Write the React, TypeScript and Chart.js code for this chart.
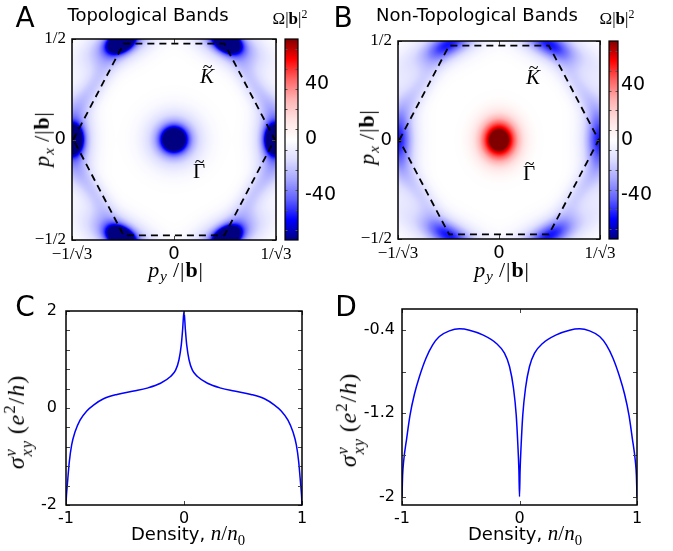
import React, { useEffect, useRef } from 'react';
import { Chart, registerables } from 'chart.js';
Chart.register(...registerables);

// ================= DATA =================
// Brillouin-zone boundary (dashed hexagon): p_y/|b| and p_x/|b|
const HEX_PY = [-0.57, -0.285, 0.285, 0.57, 0.285, -0.285, -0.57];
const HEX_PX = [0, 0.477, 0.477, 0, -0.477, -0.477, 0];

const BZ_PY_MIN = -0.5774;
const BZ_PY_MAX = 0.5774;
const BZ_PX_MIN = -0.5;
const BZ_PX_MAX = 0.5;
const BZ_PY_TICKS = [-0.5774, 0, 0.5774];
const BZ_PY_LABELS = ['\u22121/\u221A3', '0', '1/\u221A3'];
const BZ_PX_TICKS = [-0.5, 0, 0.5];
const BZ_PX_LABELS = ['\u22121/2', '0', '1/2'];

// Berry-curvature features Omega|b|^2: centre (p_y, p_x), amplitude, radial / tangential widths
const A_BLOB_PY = [0, 0, 0.57, 0.3, -0.3, -0.57, -0.3, 0.3, 0.57, 0.3, -0.3, -0.57, -0.3, 0.3, 0.46, -0.46, -0.46, 0.46];
const A_BLOB_PX = [0, 0, 0, 0.485, 0.485, 0, -0.485, -0.485, 0, 0.485, 0.485, 0, -0.485, -0.485, 0.26, 0.26, -0.26, -0.26];
const A_BLOB_AMP = [-90, -44, -115, -115, -115, -115, -115, -115, -40, -40, -40, -40, -40, -40, -18, -18, -18, -18];
const A_BLOB_SR = [0.08, 0.165, 0.06, 0.06, 0.06, 0.06, 0.06, 0.06, 0.12, 0.12, 0.12, 0.12, 0.12, 0.12, 0.08, 0.08, 0.08, 0.08];
const A_BLOB_ST = [0.08, 0.165, 0.09, 0.09, 0.09, 0.09, 0.09, 0.09, 0.25, 0.25, 0.25, 0.25, 0.25, 0.25, 0.28, 0.28, 0.28, 0.28];

const B_BLOB_PY = [0, 0, 0.57, 0.285, -0.285, -0.57, -0.285, 0.285, 0.57, 0.285, -0.285, -0.57, -0.285, 0.285, 0.46, -0.46, -0.46, 0.46];
const B_BLOB_PX = [0, 0, 0, 0.485, 0.485, 0, -0.485, -0.485, 0, 0.485, 0.485, 0, -0.485, -0.485, 0.26, 0.26, -0.26, -0.26];
const B_BLOB_AMP = [35, 85, -30, -30, -30, -30, -30, -30, -22, -22, -22, -22, -22, -22, -15, -15, -15, -15];
const B_BLOB_SR = [0.05, 0.13, 0.08, 0.08, 0.08, 0.08, 0.08, 0.08, 0.12, 0.12, 0.12, 0.12, 0.12, 0.12, 0.08, 0.08, 0.08, 0.08];
const B_BLOB_ST = [0.05, 0.15, 0.17, 0.17, 0.17, 0.17, 0.17, 0.17, 0.35, 0.35, 0.35, 0.35, 0.35, 0.35, 0.3, 0.3, 0.3, 0.3];

// Colour bar
const CBAR_MIN = -72;
const CBAR_MAX = 72;
const CBAR_TICKS = [-40, 0, 40];
const CBAR_LABELS = ['-40', '0', '40'];
const CBAR_MINOR = [-64.8, -50.4, -36, -21.6, -7.2, 7.2, 21.6, 36, 50.4, 64.8];
const CMAP_STOPS = [-72, -57.6, -43.2, -28.8, -14.4, 0, 14.4, 28.8, 43.2, 57.6, 72];
const CMAP_COLORS = [
  [0, 0, 128], [0, 0, 255], [95, 95, 255], [165, 165, 255], [220, 220, 255],
  [255, 255, 255],
  [255, 225, 225], [255, 178, 178], [255, 100, 100], [255, 0, 0], [128, 0, 0],
];

// Panel C
const C_DENSITY = [-1, -0.996, -0.989, -0.972, -0.952, -0.923, -0.881, -0.824, -0.767, -0.682, -0.568, -0.426, -0.313, -0.199, -0.114, -0.071, -0.043, -0.023, -0.011, 0, 0.011, 0.023, 0.043, 0.071, 0.114, 0.199, 0.313, 0.426, 0.568, 0.682, 0.767, 0.824, 0.881, 0.923, 0.952, 0.972, 0.989, 0.996, 1];
const C_SIGMA = [-2, -1.8, -1.59, -1.11, -0.76, -0.49, -0.25, -0.06, 0.06, 0.19, 0.28, 0.35, 0.41, 0.51, 0.65, 0.78, 0.99, 1.3, 1.64, 2, 1.64, 1.3, 0.99, 0.78, 0.65, 0.51, 0.41, 0.35, 0.28, 0.19, 0.06, -0.06, -0.25, -0.49, -0.76, -1.11, -1.59, -1.8, -2];
const C_X_TICKS = [-1, 0, 1];
const C_X_LABELS = ['-1', '0', '1'];
const C_Y_MIN = -2;
const C_Y_MAX = 2;
const C_Y_TICKS = [-2, -1.6, -1.2, -0.8, -0.4, 0, 0.4, 0.8, 1.2, 1.6, 2];
const C_Y_LABELS = ['-2', '', '', '', '', '0', '', '', '', '', '2'];

// Panel D
const D_DENSITY = [-1, -0.995, -0.986, -0.96, -0.932, -0.895, -0.852, -0.795, -0.739, -0.682, -0.597, -0.511, -0.426, -0.313, -0.199, -0.128, -0.085, -0.051, -0.028, -0.014, -0.005, 0, 0.005, 0.014, 0.028, 0.051, 0.085, 0.128, 0.199, 0.313, 0.426, 0.511, 0.597, 0.682, 0.739, 0.795, 0.852, 0.895, 0.932, 0.96, 0.986, 0.995, 1];
const D_SIGMA = [-2, -1.8, -1.66, -1.44, -1.22, -1.02, -0.85, -0.67, -0.544, -0.464, -0.41, -0.39, -0.403, -0.448, -0.528, -0.624, -0.752, -0.96, -1.216, -1.504, -1.75, -2, -1.75, -1.504, -1.216, -0.96, -0.752, -0.624, -0.528, -0.448, -0.403, -0.39, -0.41, -0.464, -0.544, -0.67, -0.85, -1.02, -1.22, -1.44, -1.66, -1.8, -2];
const D_X_TICKS = [-1, 0, 1];
const D_X_LABELS = ['-1', '0', '1'];
const D_Y_MIN = -2.08;
const D_Y_MAX = -0.2;
const D_Y_TICKS = [-2, -1.6, -1.2, -0.8, -0.4];
const D_Y_LABELS = ['-2', '', '-1.2', '', '-0.4'];

// ================= HELPERS =================
const SANS = '"DejaVu Sans", sans-serif';
const SERIF = '"Liberation Serif", "DejaVu Serif", serif';

function cmap(v: number): number[] {
  const s = CMAP_STOPS;
  const n = s.length;
  if (v <= s[0]) return CMAP_COLORS[0];
  if (v >= s[n - 1]) return CMAP_COLORS[n - 1];
  let i = 0;
  while (i < n - 2 && v > s[i + 1]) i++;
  const f = (v - s[i]) / (s[i + 1] - s[i]);
  const a = CMAP_COLORS[i], b = CMAP_COLORS[i + 1];
  return [a[0] + (b[0] - a[0]) * f, a[1] + (b[1] - a[1]) * f, a[2] + (b[2] - a[2]) * f];
}

type Blobs = { py: number[]; px: number[]; amp: number[]; sr: number[]; st: number[] };

function fieldAt(x: number, y: number, bl: Blobs): number {
  const u = x / BZ_PY_MAX, w = y / BZ_PX_MAX;
  let v = 0;
  for (let k = 0; k < bl.amp.length; k++) {
    const cu = bl.py[k] / BZ_PY_MAX, cw = bl.px[k] / BZ_PX_MAX;
    const th = cu === 0 && cw === 0 ? 0 : Math.atan2(cw, cu);
    const c = Math.cos(th), s = Math.sin(th);
    const du = u - cu, dw = w - cw;
    const rr = du * c + dw * s;
    const tt = -du * s + dw * c;
    v += bl.amp[k] * Math.exp(-(rr * rr / (2 * bl.sr[k] * bl.sr[k]) + tt * tt / (2 * bl.st[k] * bl.st[k])));
  }
  return v;
}

function fieldPlugin(bl: Blobs) {
  return {
    id: 'field',
    beforeDatasetsDraw(chart: any) {
      const { ctx, chartArea: a, scales } = chart;
      const w = Math.round(a.right - a.left), h = Math.round(a.bottom - a.top);
      const off = document.createElement('canvas');
      off.width = w; off.height = h;
      const octx = off.getContext('2d')!;
      const img = octx.createImageData(w, h);
      const xs: number[] = [];
      for (let i = 0; i < w; i++) xs.push(scales.x.getValueForPixel(a.left + i + 0.5));
      for (let j = 0; j < h; j++) {
        const yv = scales.y.getValueForPixel(a.top + j + 0.5);
        for (let i = 0; i < w; i++) {
          const col = cmap(fieldAt(xs[i], yv, bl));
          const o = (j * w + i) * 4;
          img.data[o] = col[0]; img.data[o + 1] = col[1]; img.data[o + 2] = col[2]; img.data[o + 3] = 255;
        }
      }
      octx.putImageData(img, 0, 0);
      ctx.drawImage(off, a.left, a.top, w, h);
    },
  };
}

const framePlugin = {
  id: 'frame',
  afterDatasetsDraw(chart: any) {
    const { ctx, chartArea: a, scales } = chart;
    ctx.save();
    ctx.strokeStyle = '#444';
    ctx.lineWidth = 1;
    const L = 4;
    const seg = (x1: number, y1: number, x2: number, y2: number) => {
      ctx.beginPath(); ctx.moveTo(x1, y1); ctx.lineTo(x2, y2); ctx.stroke();
    };
    for (const t of scales.y.ticks) {
      const p = Math.round(scales.y.getPixelForValue(t.value)) + 0.5;
      seg(a.left, p, a.left + L, p); seg(a.right - L, p, a.right, p);
    }
    for (const t of scales.x.ticks) {
      const p = Math.round(scales.x.getPixelForValue(t.value)) + 0.5;
      seg(p, a.bottom, p, a.bottom - L); seg(p, a.top, p, a.top + L);
    }
    ctx.strokeStyle = '#000';
    ctx.lineWidth = 1.5;
    ctx.strokeRect(a.left, a.top, a.right - a.left, a.bottom - a.top);
    ctx.restore();
  },
};

const cbarPlugin = {
  id: 'cbar',
  afterDraw(chart: any) {
    const { ctx, chartArea: a, scales } = chart;
    const y = scales.y;
    ctx.save();
    for (let p = Math.floor(a.top); p < Math.ceil(a.bottom); p++) {
      const c = cmap(y.getValueForPixel(p + 0.5));
      ctx.fillStyle = `rgb(${Math.round(c[0])},${Math.round(c[1])},${Math.round(c[2])})`;
      ctx.fillRect(a.left, p, a.right - a.left, 1);
    }
    ctx.strokeStyle = '#555';
    ctx.lineWidth = 1;
    for (const v of CBAR_MINOR) {
      const p = Math.round(y.getPixelForValue(v)) + 0.5;
      ctx.beginPath(); ctx.moveTo(a.left, p); ctx.lineTo(a.left + 2.5, p); ctx.stroke();
      ctx.beginPath(); ctx.moveTo(a.right - 2.5, p); ctx.lineTo(a.right, p); ctx.stroke();
    }
    ctx.strokeStyle = '#000';
    ctx.lineWidth = 1.2;
    ctx.strokeRect(a.left, a.top, a.right - a.left, a.bottom - a.top);
    ctx.restore();
  },
};

const fixedY = (width: number) => (s: any) => { s.width = width; s.paddingTop = 0; s.paddingBottom = 0; };
const fixedX = (height: number) => (s: any) => { s.height = height; s.paddingLeft = 0; s.paddingRight = 0; };
const setTicks = (vals: number[]) => (s: any) => { s.ticks = vals.map((v) => ({ value: v })); };

const noGrid = { display: false, drawTicks: false };
const noBorder = { display: false };

const bzFont = (c: any) =>
  c.tick && c.tick.value === 0 ? { family: SANS, size: 18 } : { family: SERIF, size: 17 };

type Geo = { w: number; h: number; left: number; right: number; top: number; bottom: number };

function bzConfig(bl: Blobs, g: Geo): any {
  return {
    type: 'scatter',
    data: {
      datasets: [{
        data: HEX_PY.map((x, i) => ({ x, y: HEX_PX[i] })),
        showLine: true, borderColor: '#000', borderWidth: 1.8, borderDash: [7, 5],
        pointRadius: 0, fill: false, tension: 0,
      }],
    },
    options: {
      responsive: false, animation: false, events: [],
      layout: { padding: { left: 0, top: g.top, right: g.w - g.right, bottom: 0 } },
      plugins: { legend: { display: false }, tooltip: { enabled: false } },
      scales: {
        x: {
          type: 'linear', min: BZ_PY_MIN, max: BZ_PY_MAX, grid: noGrid, border: noBorder,
          afterBuildTicks: setTicks(BZ_PY_TICKS), afterFit: fixedX(g.h - g.bottom),
          ticks: { callback: (_v: any, i: number) => BZ_PY_LABELS[i], font: bzFont, color: '#000', padding: 4, maxRotation: 0, minRotation: 0, autoSkip: false },
        },
        y: {
          type: 'linear', min: BZ_PX_MIN, max: BZ_PX_MAX, grid: noGrid, border: noBorder,
          afterBuildTicks: setTicks(BZ_PX_TICKS), afterFit: fixedY(g.left),
          ticks: { callback: (_v: any, i: number) => BZ_PX_LABELS[i], font: bzFont, color: '#000', padding: 6, autoSkip: false },
        },
      },
    },
    plugins: [fieldPlugin(bl), framePlugin],
  };
}

function cbarConfig(g: Geo, pad: number): any {
  return {
    type: 'scatter',
    data: { datasets: [] },
    options: {
      responsive: false, animation: false, events: [],
      layout: { padding: { left: g.left, top: g.top, right: 0, bottom: g.h - g.bottom } },
      plugins: { legend: { display: false }, tooltip: { enabled: false } },
      scales: {
        x: { display: false, min: 0, max: 1 },
        y: {
          type: 'linear', position: 'right', min: CBAR_MIN, max: CBAR_MAX, grid: noGrid, border: noBorder,
          afterBuildTicks: setTicks(CBAR_TICKS), afterFit: fixedY(g.w - g.right),
          ticks: { callback: (_v: any, i: number) => CBAR_LABELS[i], font: { family: SANS, size: 19 }, color: '#000', padding: pad, autoSkip: false },
        },
      },
    },
    plugins: [cbarPlugin],
  };
}

function lineConfig(xs: number[], ys: number[], g: Geo, yMin: number, yMax: number,
  xTicks: number[], xLabels: string[], yTicks: number[], yLabels: string[], yPad: number): any {
  return {
    type: 'scatter',
    data: {
      datasets: [{
        data: xs.map((x, i) => ({ x, y: ys[i] })),
        showLine: true, borderColor: '#0000ff', borderWidth: 1.5, pointRadius: 0,
        fill: false, cubicInterpolationMode: 'monotone',
      }],
    },
    options: {
      responsive: false, animation: false, events: [],
      layout: { padding: { left: 0, top: g.top, right: g.w - g.right, bottom: 0 } },
      plugins: { legend: { display: false }, tooltip: { enabled: false } },
      scales: {
        x: {
          type: 'linear', min: -1, max: 1, grid: noGrid, border: noBorder,
          afterBuildTicks: setTicks(xTicks), afterFit: fixedX(g.h - g.bottom),
          ticks: { callback: (_v: any, i: number) => xLabels[i], font: { family: SANS, size: 16 }, color: '#000', padding: 4, maxRotation: 0, minRotation: 0, autoSkip: false },
        },
        y: {
          type: 'linear', min: yMin, max: yMax, grid: noGrid, border: noBorder,
          afterBuildTicks: setTicks(yTicks), afterFit: fixedY(g.left),
          ticks: { callback: (_v: any, i: number) => yLabels[i], font: { family: SANS, size: 16 }, color: '#000', padding: yPad, autoSkip: false },
        },
      },
    },
    plugins: [framePlugin],
  };
}

function ChartBox({ x, y, g, make }: { x: number; y: number; g: Geo; make: () => any }) {
  const ref = useRef<HTMLCanvasElement>(null);
  useEffect(() => {
    const ch = new Chart(ref.current!, make());
    return () => ch.destroy();
  }, []);
  return (
    <canvas ref={ref} width={g.w} height={g.h}
      style={{ position: 'absolute', left: x, top: y, width: g.w, height: g.h }} />
  );
}

function T({ x, y, size, family, rot, children, spacing }: any) {
  return (
    <div style={{
      position: 'absolute', left: x, top: y, fontSize: size, fontFamily: family || SANS,
      transform: `translate(-50%, -50%)${rot ? ' rotate(-90deg)' : ''}`,
      whiteSpace: 'nowrap', lineHeight: 1.15, color: '#000', fontWeight: 400,
      letterSpacing: spacing || 'normal',
    }}>{children}</div>
  );
}

const Sub = ({ children }: any) => <span style={{ fontSize: '0.7em', verticalAlign: '-0.3em' }}>{children}</span>;
const Sup = ({ children }: any) => <span style={{ fontSize: '0.7em', verticalAlign: '0.55em' }}>{children}</span>;
const I = ({ children }: any) => <span style={{ fontStyle: 'italic' }}>{children}</span>;
const Bv = () => <span style={{ fontWeight: 'bold' }}>b</span>;
const Tilde = ({ children, italic }: any) => (
  <span style={{ position: 'relative', display: 'inline-block' }}>
    {italic ? <I>{children}</I> : children}
    <span style={{ position: 'absolute', left: '50%', top: '-0.42em', transform: 'translateX(-45%)', fontSize: '0.85em' }}>~</span>
  </span>
);

const OmegaLabel = () => (<span>Ω|<Bv />|<Sup>2</Sup></span>);
const PxLabel = () => (<span><I>p</I><Sub><I>x</I></Sub>{'\u2009'}/|<Bv />|</span>);
const PyLabel = () => (<span><I>p</I><Sub><I>y</I></Sub>{'\u2009'}/|<Bv />|</span>);
const SigmaLabel = () => (
  <span>
    <I>σ</I>
    <span style={{ display: 'inline-flex', flexDirection: 'column', fontSize: '0.68em', verticalAlign: 'middle', lineHeight: 0.95, marginRight: '0.35em' }}>
      <I>v</I><I>xy</I>
    </span>
    (<I>e</I><Sup>2</Sup>/<I>h</I>)
  </span>
);
const DensityLabel = () => (
  <span>
    <span style={{ fontFamily: SANS, fontSize: 18 }}>Density, </span>
    <span style={{ fontFamily: SERIF, fontSize: 21 }}><I>n</I>/<I>n</I><Sub>0</Sub></span>
  </span>
);

const GEO_A: Geo = { w: 300, h: 290, left: 72, right: 276, top: 39, bottom: 240 };
const GEO_A_CB: Geo = { w: 60, h: 290, left: 5, right: 18, top: 39, bottom: 240 };
const GEO_B: Geo = { w: 300, h: 290, left: 58, right: 260, top: 41, bottom: 239 };
const GEO_B_CB: Geo = { w: 73, h: 290, left: 9, right: 18, top: 41, bottom: 239 };
const GEO_C: Geo = { w: 340, h: 261, left: 66, right: 302, top: 21, bottom: 215 };
const GEO_D: Geo = { w: 333, h: 261, left: 62, right: 297, top: 19, bottom: 215 };

const BLOBS_A: Blobs = { py: A_BLOB_PY, px: A_BLOB_PX, amp: A_BLOB_AMP, sr: A_BLOB_SR, st: A_BLOB_ST };
const BLOBS_B: Blobs = { py: B_BLOB_PY, px: B_BLOB_PX, amp: B_BLOB_AMP, sr: B_BLOB_SR, st: B_BLOB_ST };

export default function App() {
  return (
    <div style={{ position: 'absolute', left: 0, top: 0, width: 673, height: 551, background: '#fff', overflow: 'hidden' }}>
      <ChartBox x={0} y={0} g={GEO_A} make={() => bzConfig(BLOBS_A, GEO_A)} />
      <ChartBox x={280} y={0} g={GEO_A_CB} make={() => cbarConfig(GEO_A_CB, 7)} />
      <ChartBox x={340} y={0} g={GEO_B} make={() => bzConfig(BLOBS_B, GEO_B)} />
      <ChartBox x={600} y={0} g={GEO_B_CB} make={() => cbarConfig(GEO_B_CB, 3)} />
      <ChartBox x={0} y={290} g={GEO_C} make={() => lineConfig(C_DENSITY, C_SIGMA, GEO_C, C_Y_MIN, C_Y_MAX, C_X_TICKS, C_X_LABELS, C_Y_TICKS, C_Y_LABELS, 9)} />
      <ChartBox x={340} y={290} g={GEO_D} make={() => lineConfig(D_DENSITY, D_SIGMA, GEO_D, D_Y_MIN, D_Y_MAX, D_X_TICKS, D_X_LABELS, D_Y_TICKS, D_Y_LABELS, 7)} />

      {/* Panel letters and titles */}
      <T x={25} y={18} size={28}>A</T>
      <T x={148} y={15} size={18}>Topological Bands</T>
      <T x={290} y={18} size={17} family={SERIF}><OmegaLabel /></T>
      <T x={343} y={18} size={28}>B</T>
      <T x={477} y={15} size={18}>Non-Topological Bands</T>
      <T x={617} y={18} size={17} family={SERIF}><OmegaLabel /></T>
      <T x={25} y={307} size={28}>C</T>
      <T x={346} y={307} size={28}>D</T>

      {/* point labels */}
      <T x={207} y={76} size={21} family={SERIF}><Tilde italic>K</Tilde></T>
      <T x={199} y={171} size={21} family={SERIF}><Tilde>Γ</Tilde></T>
      <T x={533} y={77} size={21} family={SERIF}><Tilde italic>K</Tilde></T>
      <T x={529} y={173} size={21} family={SERIF}><Tilde>Γ</Tilde></T>

      {/* axis titles */}
      <T x={43} y={139} size={22} family={SERIF} spacing="0.04em" rot><PxLabel /></T>
      <T x={176} y={271} size={22} family={SERIF} spacing="0.04em"><PyLabel /></T>
      <T x={368} y={137} size={22} family={SERIF} spacing="0.04em" rot><PxLabel /></T>
      <T x={502} y={271} size={22} family={SERIF} spacing="0.04em"><PyLabel /></T>
      <T x={17} y={422} size={24} family={SERIF} spacing="0.04em" rot><SigmaLabel /></T>
      <T x={349} y={420} size={24} family={SERIF} spacing="0.04em" rot><SigmaLabel /></T>
      <T x={188} y={535} size={18}><DensityLabel /></T>
      <T x={525} y={535} size={18}><DensityLabel /></T>
    </div>
  );
}
